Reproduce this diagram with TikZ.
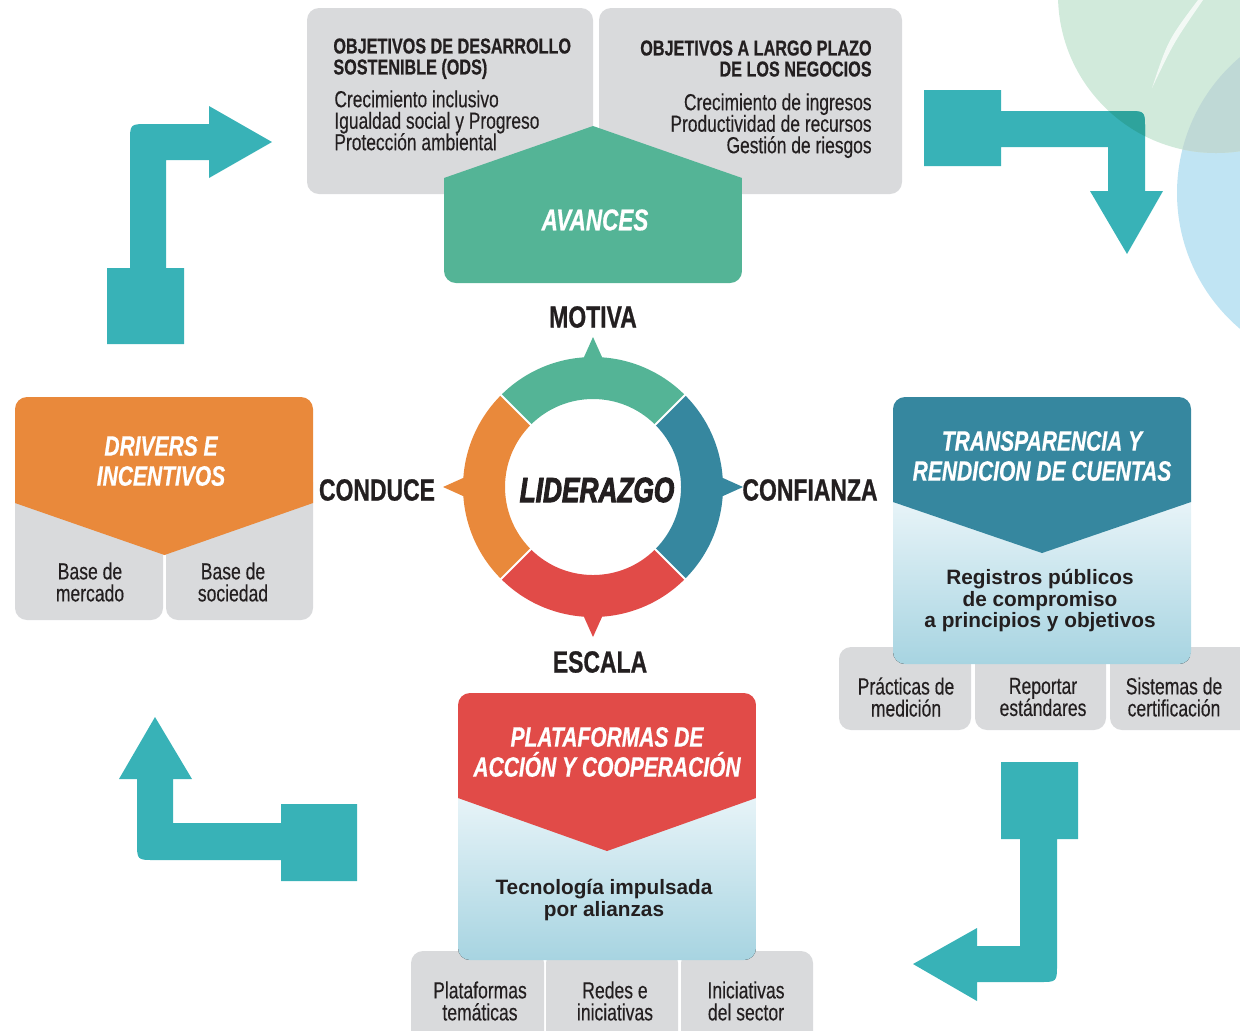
\documentclass[tikz,border=0pt]{standalone}
\usepackage{fontspec}
\setmainfont{Liberation Sans}
\newfontfamily\condensada{Liberation Sans}[FakeStretch=0.75]
\usepackage{tikz}
\usepackage{xcolor}
\usetikzlibrary{calc}
\definecolor{tinta}{HTML}{231F20}
\definecolor{gris}{HTML}{D9DADC}
\definecolor{verde}{HTML}{54B496}
\definecolor{azul}{HTML}{36879F}
\definecolor{naranja}{HTML}{E9893B}
\definecolor{rojo}{HTML}{E14B48}
\definecolor{turquesa}{HTML}{38B2B7}
\definecolor{turqoscuro}{HTML}{2EA39C}
\definecolor{menta}{HTML}{D1EADB}
\definecolor{cielo}{HTML}{C0E4F3}
\definecolor{cruce}{HTML}{BFD9D6}
\definecolor{nube}{HTML}{EAF5F9}
\definecolor{agua}{HTML}{A7D4E1}
\lineskiplimit=-20pt
\newcommand{\flechaNE}{(924,90) -- (1001,90) -- (1001,111) -- (1127,111) .. controls (1145,111) .. (1145,129)
  -- (1145,191) -- (1163,191) -- (1127,254) -- (1090,191) -- (1108,191) -- (1108,147) -- (1001,147)
  -- (1001,166) -- (924,166) -- cycle}

\begin{document}
\begin{tikzpicture}[x=0.5pt, y=-0.5pt,
  caja/.style={fill=gris, rounded corners=6pt},
  flecha/.style={fill=turquesa},
  tit/.style={font=\condensada\bfseries\fontsize{10.8}{10.5}\selectfont\addfontfeatures{FakeBold=0.6}, text=tinta, inner sep=0pt},
  cuerpo/.style={font=\condensada\fontsize{11.6}{10.75}\selectfont\addfontfeatures{FakeBold=0.3}, text=tinta, inner sep=0pt},
  titulo/.style={font=\condensada\bfseries\itshape\fontsize{14}{15}\selectfont\addfontfeatures{FakeBold=0.6}, text=white, align=center, inner sep=0pt},
  etiqueta/.style={font=\condensada\bfseries\fontsize{15.3}{16}\selectfont\addfontfeatures{FakeBold=0.8}, text=tinta, inner sep=0pt},
  sub/.style={font=\condensada\fontsize{11.7}{11}\selectfont\addfontfeatures{FakeBold=0.3}, text=tinta, align=center, inner sep=0pt},
  lema/.style={font=\bfseries\fontsize{10.4}{10.75}\selectfont, text=tinta, align=center, inner sep=0pt}]
  \useasboundingbox (0,0) rectangle (1240,1030);
  \clip (0,0) rectangle (1240,1030);

  % circulos de fondo
  \fill[cielo] (1355,193) circle (178);
  \fill[menta] (1216,-5) circle (158);
  \begin{scope}
    \clip (1216,-5) circle (158);
    \fill[cruce] (1355,193) circle (178);
  \end{scope}
  \fill[white, opacity=.75] (1198,0) .. controls (1168,40) .. (1152,88) .. controls (1174,42) .. (1203,0) -- cycle;

  % objetivos y avances
  \path[caja] (307,8) rectangle (593,194);
  \path[caja] (599,8) rectangle (902,194);
  \begin{scope}
    \clip[rounded corners=6pt] (444,100) rectangle (742,283);
    \fill[verde] (444,178) -- (593,126) -- (742,178) -- (742,290) -- (444,290) -- cycle;
  \end{scope}
  \node[tit, anchor=north west, align=left] (odsT) at (333,38) {OBJETIVOS DE DESARROLLO\\SOSTENIBLE (ODS)};
  \node[cuerpo, anchor=north west, align=left] (odsC) at (334,90) {Crecimiento inclusivo\\Igualdad social y Progreso\\Protección ambiental};
  \node[tit, anchor=north east, align=right] (negT) at (872,40) {OBJETIVOS A LARGO PLAZO\\DE LOS NEGOCIOS};
  \node[cuerpo, anchor=north east, align=right] (negC) at (872,93) {Crecimiento de ingresos\\Productividad de recursos\\Gestión de riesgos};
  \node[titulo, font=\condensada\bfseries\itshape\fontsize{15}{15}\selectfont\addfontfeatures{FakeBold=0.6}] (avances) at (595,220) {AVANCES};

  % drivers
  \path[caja] (15,470) rectangle (163,620);
  \path[caja] (166,470) rectangle (313,620);
  \begin{scope}
    \clip[rounded corners=6pt] (15,397) rectangle (313,620);
    \fill[naranja] (15,397) -- (313,397) -- (313,503) -- (164.5,555) -- (15,503) -- cycle;
  \end{scope}
  \node[titulo] (drivers) at (161,461) {DRIVERS E\\INCENTIVOS};
  \node[sub] (mercado) at (90,582) {Base de\\mercado};
  \node[sub] (sociedad) at (233,582) {Base de\\sociedad};

  % transparencia
  \path[caja] (839,647) rectangle (971,730);
  \path[caja] (975,647) rectangle (1106,730);
  \path[caja] (1110,647) rectangle (1254,730);
  \begin{scope}
    \clip[rounded corners=6pt] (893,397) rectangle (1191,664);
    \fill[top color=nube, bottom color=agua] (893,495) rectangle (1191,664);
    \fill[azul] (893,397) -- (1191,397) -- (1191,502) -- (1042,553) -- (893,502) -- cycle;
  \end{scope}
  \node[titulo] (transp) at (1042,456) {TRANSPARENCIA Y\\RENDICION DE CUENTAS};
  \node[lema] (registros) at (1040,601) {Registros públicos\\de compromiso\\a principios y objetivos};
  \node[sub] (practicas) at (906,697) {Prácticas de\\medición};
  \node[sub] (reportar) at (1043,697) {Reportar\\estándares};
  \node[sub] (sistemas) at (1174,697) {Sistemas de\\certificación};

  % plataformas
  \path[caja] (411,951) rectangle (544,1050);
  \path[caja] (546,951) rectangle (678,1050);
  \path[caja] (681,951) rectangle (813,1050);
  \begin{scope}
    \clip[rounded corners=6pt] (458,693) rectangle (756,960);
    \fill[top color=nube, bottom color=agua] (458,790) rectangle (756,960);
    \fill[rojo] (458,693) -- (756,693) -- (756,798) -- (607,851) -- (458,798) -- cycle;
  \end{scope}
  \node[titulo] (plataf) at (607,752) {PLATAFORMAS DE\\ACCIÓN Y COOPERACIÓN};
  \node[lema] (tecno) at (604,900) {Tecnología impulsada\\por alianzas};
  \node[sub] (tematicas) at (480,1001) {Plataformas\\temáticas};
  \node[sub] (redes) at (615,1001) {Redes e\\iniciativas};
  \node[sub] (sector) at (746,1001) {Iniciativas\\del sector};

  % flechas del ciclo
  \fill[flecha] (107,344) -- (107,268) -- (130,268) -- (130,142) .. controls (130,124) .. (148,124) -- (209,124)
    -- (209,106) -- (272,142) -- (209,178) -- (209,160) -- (166,160) -- (166,268) -- (184,268) -- (184,344) -- cycle;
  \fill[flecha] \flechaNE;
  \begin{scope}
    \clip (1216,-5) circle (158);
    \fill[turqoscuro] \flechaNE;
  \end{scope}
  \fill[flecha] (1001,762) -- (1078,762) -- (1078,839) -- (1057,839) -- (1057,964) .. controls (1057,982) .. (1039,982)
    -- (977,982) -- (977,1001) -- (913,964) -- (977,928) -- (977,946) -- (1020,946) -- (1020,839) -- (1001,839) -- cycle;
  \fill[flecha] (357,804) -- (357,881) -- (281,881) -- (281,860) -- (155,860) .. controls (137,860) .. (137,842)
    -- (137,779) -- (119,779) -- (155,717) -- (192,779) -- (173,779) -- (173,823) -- (281,823) -- (281,804) -- cycle;

  % anillo central
  \begin{scope}[shift={(593,487)}]
    \foreach \a/\col in {225/verde, -45/azul, 45/rojo, 135/naranja} {
      \fill[\col] (\a:130) arc[start angle=\a, end angle=\a+90, radius=130]
        -- (\a+90:88) arc[start angle=\a+90, end angle=\a, radius=88] -- cycle;
      \fill[\col] (\a+45:150) -- (\a+50:126) -- (\a+40:126) -- cycle;
    }
    \foreach \a in {45,135,225,315}
      \draw[white, line width=1pt] (\a:86) -- (\a:132);
  \end{scope}
  \node[font=\condensada\bfseries\itshape\fontsize{17.5}{18}\selectfont, text=tinta, inner sep=0pt] (lider) at (597,490) {\addfontfeatures{FakeBold=2.5}LIDERAZGO};
  \node[etiqueta] (motiva) at (593,317) {MOTIVA};
  \node[etiqueta] (conduce) at (377,490) {CONDUCE};
  \node[etiqueta] (confianza) at (810,490) {CONFIANZA};
  \node[etiqueta] (escala) at (600,662) {ESCALA};
\end{tikzpicture}
\end{document}
